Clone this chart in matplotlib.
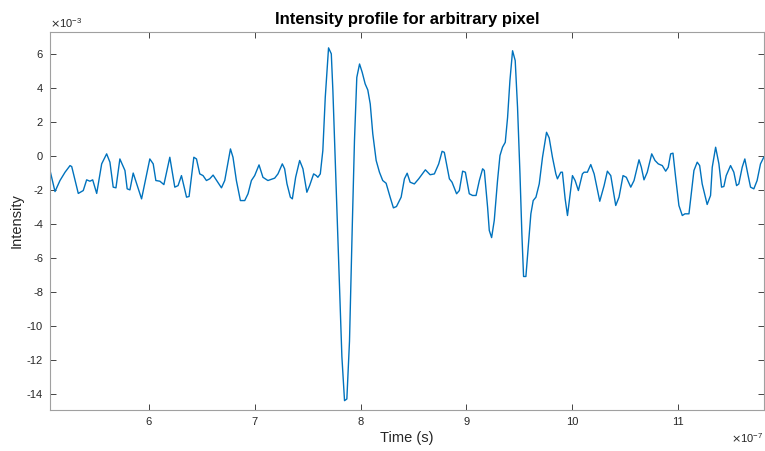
import matplotlib
matplotlib.use("Agg")
import matplotlib.pyplot as plt
import numpy as np
from matplotlib.ticker import ScalarFormatter

# time samples (units of 1e-7 s) and intensity (units of 1e-3)
time_e7 = [
    5.066, 5.113, 5.160, 5.208, 5.255, 5.271, 5.333, 5.380, 5.412, 5.443,
    5.469, 5.507, 5.554, 5.601, 5.632, 5.663, 5.689, 5.726, 5.774, 5.795,
    5.821, 5.852, 5.931, 6.009, 6.041, 6.066, 6.104, 6.142, 6.198, 6.245,
    6.276, 6.308, 6.356, 6.380, 6.425, 6.450, 6.481, 6.512, 6.544, 6.575,
    6.607, 6.686, 6.717, 6.771, 6.795, 6.827, 6.865, 6.906, 6.937, 6.969,
    7.000, 7.041, 7.078, 7.125, 7.189, 7.220, 7.261, 7.283, 7.305, 7.337,
    7.356, 7.387, 7.425, 7.456, 7.493, 7.519, 7.557, 7.582, 7.597, 7.620,
    7.644, 7.667, 7.698, 7.724, 7.739, 7.771, 7.802, 7.824, 7.849, 7.871,
    7.896, 7.922, 7.943, 7.965, 7.991, 8.016, 8.044, 8.069, 8.092, 8.116,
    8.148, 8.179, 8.210, 8.242, 8.280, 8.311, 8.340, 8.384, 8.415, 8.441,
    8.469, 8.509, 8.550, 8.613, 8.658, 8.698, 8.739, 8.771, 8.792, 8.840,
    8.865, 8.908, 8.934, 8.965, 8.991, 9.028, 9.059, 9.092, 9.123, 9.154,
    9.170, 9.201, 9.217, 9.239, 9.264, 9.295, 9.318, 9.342, 9.368, 9.390,
    9.412, 9.437, 9.462, 9.484, 9.507, 9.525, 9.541, 9.563, 9.585, 9.610,
    9.632, 9.658, 9.689, 9.720, 9.758, 9.783, 9.814, 9.846, 9.861, 9.893,
    9.908, 9.934, 9.956, 9.978, 10.003, 10.028, 10.059, 10.097, 10.113, 10.144,
    10.176, 10.208, 10.261, 10.302, 10.333, 10.365, 10.412, 10.443, 10.481, 10.512,
    10.554, 10.585, 10.632, 10.654, 10.679, 10.710, 10.752, 10.783, 10.814, 10.852,
    10.884, 10.908, 10.931, 10.953, 10.978, 11.009, 11.041, 11.066, 11.104, 11.129,
    11.151, 11.182, 11.205, 11.229, 11.276, 11.308, 11.324, 11.356, 11.387, 11.412,
    11.434, 11.456, 11.497, 11.528, 11.554, 11.575, 11.607, 11.632, 11.660, 11.686,
    11.717, 11.748, 11.780, 11.811,
]
intensity_e3 = [
    -0.85, -2.09, -1.44, -0.95, -0.56, -0.62, -2.20, -2.03, -1.40, -1.48,
    -1.40, -2.20, -0.46, 0.13, -0.36, -1.83, -1.87, -0.17, -0.85, -1.93,
    -1.99, -1.00, -2.52, -0.17, -0.46, -1.44, -1.48, -1.68, -0.07, -1.83,
    -1.74, -1.15, -2.42, -2.38, -0.07, -0.17, -1.05, -1.15, -1.44, -1.34,
    -1.12, -1.87, -1.44, 0.42, -0.07, -1.44, -2.62, -2.62, -2.22, -1.44,
    -1.15, -0.52, -1.25, -1.44, -1.30, -1.05, -0.46, -0.75, -1.63, -2.42,
    -2.52, -1.25, -0.26, -0.75, -2.13, -1.74, -1.05, -1.15, -1.25, -1.05,
    0.32, 3.46, 6.37, 6.02, 3.85, -2.03, -7.91, -11.80, -14.40, -14.30,
    -10.90, -4.19, 0.91, 4.63, 5.42, 4.93, 4.25, 3.89, 3.07, 1.31,
    -0.26, -0.95, -1.44, -1.60, -2.42, -3.05, -2.97, -2.42, -1.34, -1.01,
    -1.54, -1.64, -1.34, -0.81, -1.10, -1.05, -0.46, 0.28, 0.22, -1.34,
    -1.54, -2.22, -2.03, -0.89, -0.95, -2.22, -2.32, -2.32, -1.44, -0.75,
    -0.85, -3.01, -4.38, -4.80, -3.79, -1.44, 0.03, 0.52, 0.81, 2.28,
    4.44, 6.20, 5.62, 2.87, -1.05, -4.58, -7.09, -7.09, -5.37, -3.40,
    -2.62, -2.42, -1.64, -0.07, 1.40, 1.07, -0.07, -1.05, -1.34, -0.95,
    -0.95, -2.52, -3.50, -2.42, -1.15, -1.44, -2.03, -1.05, -0.95, -0.95,
    -0.50, -1.05, -2.66, -1.74, -0.89, -1.15, -2.91, -2.42, -1.15, -1.25,
    -1.83, -1.44, -0.22, -0.66, -1.40, -0.95, 0.13, -0.26, -0.46, -0.56,
    -0.89, -0.66, 0.13, 0.17, -1.25, -2.91, -3.50, -3.40, -3.40, -2.03,
    -0.85, -0.36, -0.56, -1.64, -2.85, -2.32, -0.66, 0.52, -0.46, -1.83,
    -1.79, -1.15, -0.56, -0.95, -1.74, -1.64, -0.66, -0.17, -1.05, -1.83,
    -1.93, -1.44, -0.46, -0.07,
]
y_ticks = [-14, -12, -10, -8, -6, -4, -2, 0, 2, 4, 6]
x_ticks = [6, 7, 8, 9, 10, 11]

plt.rcParams['font.family'] = ['Liberation Sans', 'DejaVu Sans']
plt.rcParams['axes.unicode_minus'] = False
axis_grey = '#262626'


class FixedOrderFormatter(ScalarFormatter):
    # keep a fixed exponent, like MATLAB's x10^n axis labels
    def __init__(self, order):
        super().__init__(useMathText=True)
        self._fixed_order = order

    def _set_order_of_magnitude(self):
        self.orderOfMagnitude = self._fixed_order

    def _set_format(self):
        self.format = '%d'


t = np.array(time_e7) * 1e-7
v = np.array(intensity_e3) * 1e-3

fig = plt.figure(figsize=(7.65, 4.51), dpi=100)
ax = fig.add_axes([0.0654, 0.0909, 0.933, 0.838])

ax.plot(t, v, color='#0072BD', linewidth=1.0)

ax.set_xlim(t[0], t[-1])
ax.set_ylim(-14.95e-3, 7.3e-3)
ax.set_xticks(np.array(x_ticks) * 1e-7)
ax.set_yticks(np.array(y_ticks) * 1e-3)

ax.xaxis.set_major_formatter(FixedOrderFormatter(-7))
ax.yaxis.set_major_formatter(FixedOrderFormatter(-3))
for off in (ax.xaxis.get_offset_text(), ax.yaxis.get_offset_text()):
    off.set_fontsize(8)
    off.set_color(axis_grey)

ax.tick_params(direction='in', length=4, width=0.6, colors=axis_grey,
               labelsize=8, top=True, right=True, pad=5)
for side in ax.spines.values():
    side.set_color('#a0a0a0')
    side.set_linewidth(0.8)

ax.set_title('Intensity profile for arbitrary pixel', fontsize=12,
             fontweight='bold', pad=6)
ax.set_xlabel('Time (s)', fontsize=10.5, color=axis_grey, labelpad=3)
ax.set_ylabel('Intensity', fontsize=10.5, color=axis_grey, labelpad=2)

fig.savefig('out.png', dpi=100)
